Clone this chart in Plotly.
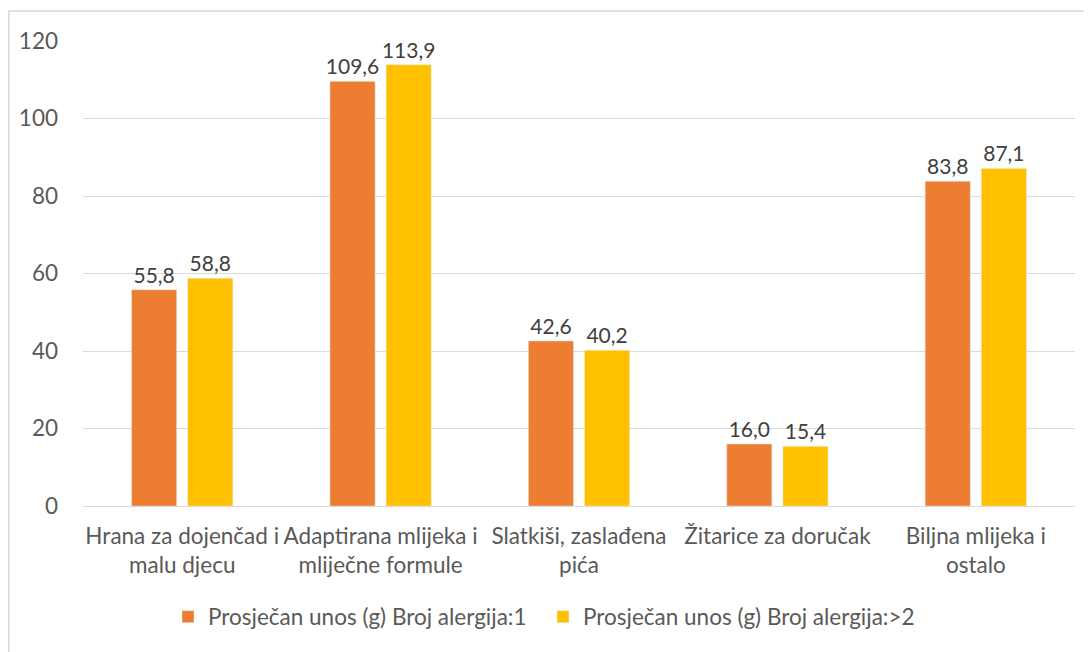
import plotly.graph_objects as go

categories = ["Hrana za dojenčad i<br>malu djecu", "Adaptirana mlijeka i<br>mliječne formule",
              "Slatkiši, zaslađena<br>pića", "Žitarice za doručak", "Biljna mlijeka i<br>ostalo"]
series1_name = "Prosječan unos (g) Broj alergija:1"
series2_name = "Prosječan unos (g) Broj alergija:>2"
series1 = [55.8, 109.6, 42.6, 16.0, 83.8]
series2 = [58.8, 113.9, 40.2, 15.4, 87.1]
y_ticks = [0, 20, 40, 60, 80, 100, 120]

FONT = "Lato"
TXT = "#595959"
FS = 22.5
FS_LBL = 21

def fmt(v):
    return f"{v:.1f}".replace(".", ",")

fig = go.Figure()
fig.add_trace(go.Bar(x=categories, y=series1, name=series1_name, marker_color="#ED7D31",
                     text=[fmt(v) for v in series1], textposition="outside", cliponaxis=False,
                     constraintext="none",
                     textfont=dict(family=FONT, size=FS_LBL, color="#404040")))
fig.add_trace(go.Bar(x=categories, y=series2, name=series2_name, marker_color="#FFC000",
                     text=[fmt(v) for v in series2], textposition="outside", cliponaxis=False,
                     constraintext="none",
                     textfont=dict(family=FONT, size=FS_LBL, color="#404040")))

# the page places the figure 8px from the top-left of the window
OFF = 8
W, H = 1092, 652
L, T = 83 - OFF, 41 - OFF
PR, PB = 1075 - OFF, 506 - OFF
R, B = W - PR, H - PB
pw, ph = PR - L, PB - T

fig.update_layout(
    width=W, height=H,
    margin=dict(l=L, r=R, t=T, b=B, pad=0, autoexpand=False),
    paper_bgcolor="white", plot_bgcolor="white",
    barmode="group", bargap=0.434, bargroupgap=0.196,
    font=dict(family=FONT, size=FS, color=TXT),
    legend=dict(orientation="h", x=(168 - OFF - L) / pw, xanchor="left",
                y=(PB - (617 - OFF)) / ph, yanchor="middle",
                entrywidth=330, entrywidthmode="pixels",
                font=dict(family=FONT, size=FS, color=TXT), itemwidth=30, traceorder="normal"),
    xaxis=dict(showgrid=False, showline=False, ticks="", ticklabelstandoff=14, tickangle=0,
               automargin=False, tickfont=dict(family=FONT, size=FS, color=TXT)),
    yaxis=dict(range=[0, 120], tickvals=y_ticks, showgrid=True, gridcolor="#D9D9D9", gridwidth=1,
               zeroline=True, zerolinecolor="#D9D9D9", zerolinewidth=1, showline=False, ticks="",
               automargin=False, ticklabelstandoff=24, tickfont=dict(family=FONT, size=FS, color=TXT)),
    shapes=[dict(type="rect", xref="paper", yref="paper",
                 x0=(0.8 - L) / pw, x1=(W + 20 - L) / pw,
                 y0=(PB - (H + 20)) / ph, y1=(PB - (11 - OFF)) / ph,
                 line=dict(color="#D9D9D9", width=1.5), layer="below")],
)

fig.write_html("out.html")
